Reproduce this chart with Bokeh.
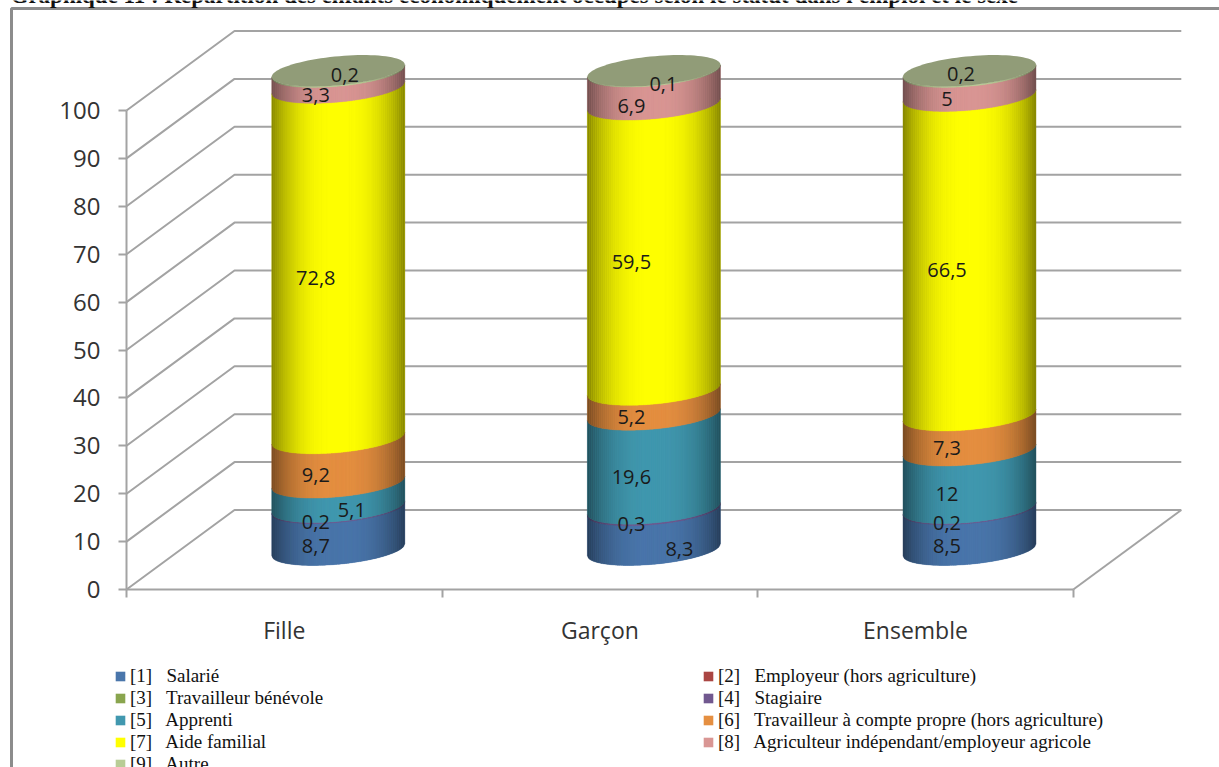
from bokeh.embed import file_html
from bokeh.resources import INLINE
from bokeh.plotting import figure
from bokeh.models import Range1d, FixedTicker, Label, Legend, LegendItem
from bokeh.core.properties import value
import numpy as np

categories = ["Fille", "Garçon", "Ensemble"]
series_names = ["[1]   Salarié", "[2]   Employeur (hors agriculture)", "[3]   Travailleur bénévole",
                "[4]   Stagiaire", "[5]   Apprenti", "[6]   Travailleur à compte propre (hors agriculture)",
                "[7]   Aide familial", "[8]   Agriculteur indépendant/employeur agricole", "[9]   Autre"]
salarie = [8.7, 8.3, 8.5]
employeur = [0, 0, 0]
benevole = [0, 0, 0]
stagiaire = [0.2, 0.3, 0.2]
apprenti = [5.1, 19.6, 12]
compte_propre = [9.2, 5.2, 7.3]
aide_familial = [72.8, 59.5, 66.5]
agriculteur = [3.3, 6.9, 5]
autre = [0.2, 0.1, 0.2]
y_ticks = [0, 10, 20, 30, 40, 50, 60, 70, 80, 90, 100]
title_text = "Graphique 11 : Répartition des enfants économiquement occupés selon le statut dans l'emploi et le sexe"
series = [salarie, employeur, benevole, stagiaire, apprenti, compte_propre, aide_familial, agriculteur, autre]
colors = ["#4A76AB", "#AA4643", "#89A54E", "#71588F", "#4198AF", "#E58F41", "#FFFF00", "#D99694", "#B9CD96"]
top_color = "#919C78"

W, H = 1219, 767
LEFT, ZERO_PX = 126, 589
SLOT = 315.6      # px per category
UNIT = 4.79       # px per percent
DEPTH_X, DEPTH_Y = 108 / SLOT, 79.5 / UNIT
GRID = "#A3A3A3"
TXT = "#333333"
FONT = "Open Sans"

p = figure(width=W, height=H, output_backend="svg", toolbar_location=None,
           x_range=Range1d(-LEFT / SLOT, (W - LEFT) / SLOT),
           y_range=Range1d(-(H - ZERO_PX) / UNIT, ZERO_PX / UNIT),
           min_border=0, outline_line_color=None,
           background_fill_color="white", border_fill_color="white")
p.grid.visible = False

# axes
ya = p.yaxis[0]
ya.fixed_location = 0
ya.bounds = (0, 100)
ya.ticker = FixedTicker(ticks=y_ticks, minor_ticks=[])
ya.axis_line_color = GRID; ya.axis_line_width = 2
ya.major_tick_line_color = GRID; ya.major_tick_line_width = 2
ya.major_tick_out = 8; ya.major_tick_in = 0
ya.major_label_text_font = FONT; ya.major_label_text_font_size = "24px"
ya.major_label_text_color = TXT; ya.major_label_standoff = 18
xa = p.xaxis[0]
xa.fixed_location = 0
xa.bounds = (0, 3)
xa.ticker = FixedTicker(ticks=[0.5, 1.5, 2.5], minor_ticks=[0, 1, 2, 3])
xa.major_label_overrides = {0.5: categories[0], 1.5: categories[1], 2.5: categories[2]}
xa.axis_line_color = GRID; xa.axis_line_width = 2
xa.major_tick_out = 0; xa.major_tick_in = 0
xa.minor_tick_line_color = GRID; xa.minor_tick_line_width = 2
xa.minor_tick_out = 8; xa.minor_tick_in = 0
xa.major_label_text_font = FONT; xa.major_label_text_font_size = "23px"
xa.major_label_text_color = TXT; xa.major_label_standoff = 16

# 3-D walls
gx, gy = [], []
for t in y_ticks:
    gx.append([0, DEPTH_X, 3 + DEPTH_X]); gy.append([t, t + DEPTH_Y, t + DEPTH_Y])
gx.append([3, 3 + DEPTH_X]); gy.append([0, DEPTH_Y])
p.multi_line(gx, gy, line_color=GRID, line_width=2)

# cylinders
BAR_A = 66.5 / SLOT
BAR_B = 14.5 / UNIT
TILT = 6.0 / UNIT
edges = np.linspace(-1, 1, 67)

def arc(u):
    return -BAR_B * np.sqrt(np.clip(1 - u * u, 0, 1)) + TILT * u

def shade(hex_c, f):
    r, g, b = int(hex_c[1:3], 16), int(hex_c[3:5], 16), int(hex_c[5:7], 16)
    return "#%02x%02x%02x" % (int(r * f), int(g * f), int(b * f))

totals = [sum(s[i] for s in series) for i in range(3)]
centers = [i + 0.5 + DEPTH_X / 2 for i in range(3)]
base = DEPTH_Y / 2
strip_x, strip_y, strip_c = [], [], []
label_x, label_y, label_t = [], [], []
renderers = []
nudges = {(4, 0): (36, 0), (8, 0): (29, -11), (8, 1): (32, -2), (0, 1): (48, 4), (7, 1): (0, 3), (8, 2): (14, -12), (0, 0): (0, 2), (0, 2): (0, 2)}
cum = [0.0, 0.0, 0.0]
for si, s in enumerate(series):
    xs, ys = [], []
    for c in range(3):
        v0 = cum[c] * 100 / totals[c]
        v1 = (cum[c] + s[c]) * 100 / totals[c]
        cx, cy = centers[c], base
        u = np.linspace(-1, 1, 60)
        xs.append(list(cx + BAR_A * u) + list(cx + BAR_A * u[::-1]))
        ys.append(list(cy + v0 + arc(u)) + list(cy + v1 + arc(u[::-1])))
        if s[c] > 0:
            for a, b in zip(edges[:-1], edges[1:]):
                m = (a + b) / 2
                uu = np.linspace(a, b, 3)
                strip_x.append(list(cx + BAR_A * uu) + list(cx + BAR_A * uu[::-1]))
                strip_y.append(list(cy + v0 + arc(uu)) + list(cy + v1 + arc(uu[::-1])))
                strip_c.append(shade(colors[si], 1 - 0.47 * abs(m) ** 2.6))
            dx, dy = nudges.get((si, c), (0, 0))
            label_x.append(cx - 22.5 / SLOT + dx / SLOT)
            label_y.append(cy + (v0 + v1) / 2 - (15 + dy) / UNIT)
            label_t.append(str(s[c]).replace(".", ","))
        cum[c] += s[c]
    r = p.patches(xs, ys, fill_color=colors[si], line_color=None)
    renderers.append(r)
p.patches(strip_x, strip_y, fill_color=strip_c, line_color=strip_c, line_width=0.4)

# top ellipses
t = np.linspace(0, 2 * np.pi, 90)
p.patches([list(centers[c] + BAR_A * np.cos(t)) for c in range(3)],
          [list(base + 100 + BAR_B * np.sin(t) + TILT * np.cos(t)) for c in range(3)],
          fill_color=top_color, line_color=None)

p.text(label_x, label_y, text=label_t, text_font=value(FONT), text_font_size="20px",
       text_color="#1a1a1a", text_align="center", text_baseline="middle")

# outer frame (pixel positions turned into range values)
def fx(px):
    return (px - LEFT) / SLOT
def fy(py):
    return (ZERO_PX - py) / UNIT
p.line([fx(11), fx(11), fx(W + 5)], [fy(H + 5), fy(8), fy(8)], line_color="#8C8C8C", line_width=3)

# legend
legend = Legend(items=[LegendItem(label=n, renderers=[r]) for n, r in zip(series_names, renderers)],
                ncols=2, orientation="horizontal", location=(114, -8),
                background_fill_alpha=0, border_line_color=None, margin=0, padding=0,
                label_text_font="Liberation Serif", label_text_font_size="19px", label_text_color="#111111",
                glyph_width=12, glyph_height=12, label_standoff=4, spacing=0, label_height=22, label_width=572)
p.add_layout(legend, "center")

# page title
p.add_layout(Label(x=10, y=H - 7, x_units="screen", y_units="screen", text=title_text,
                   text_font="Liberation Serif", text_font_style="bold", text_font_size="23px", text_color="#111111"))

open("out.html", "w").write(file_html(p, INLINE))
